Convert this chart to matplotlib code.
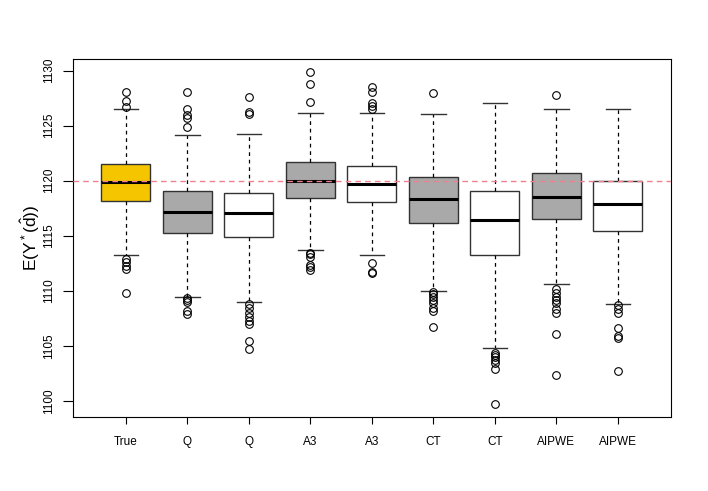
"""
Boxplots of the estimated value E(Y*(d_hat)) for each method
"""

import numpy as np
import matplotlib
matplotlib.use("Agg")
import matplotlib.pyplot as plt

#--------------------------------------------------------------

labels = ['True', 'Q', 'Q', 'A3', 'A3', 'CT', 'CT', 'AIPWE', 'AIPWE']
fills = ['#F5C600', '#A9A9A9', 'white', '#A9A9A9', 'white',
         '#A9A9A9', 'white', '#A9A9A9', 'white']

q1 = [1118.13, 1115.22, 1114.85, 1118.43, 1118.06, 1116.18, 1113.24, 1116.49, 1115.45]
med = [1119.88, 1117.13, 1117.04, 1120.00, 1119.73, 1118.36, 1116.40, 1118.52, 1117.91]
q3 = [1121.49, 1119.06, 1118.91, 1121.73, 1121.36, 1120.34, 1119.03, 1120.67, 1119.97]
whislo = [1113.22, 1109.45, 1109.00, 1113.70, 1113.22, 1110.00, 1104.76, 1110.58, 1108.79]
whishi = [1126.52, 1124.18, 1124.25, 1126.18, 1126.15, 1126.04, 1127.06, 1126.52, 1126.52]

fliers = [
    [1128.03, 1127.27, 1126.73, 1112.86, 1112.60, 1112.27, 1111.97, 1109.82],
    [1128.09, 1126.52, 1125.97, 1125.67, 1124.91,
     1109.36, 1109.15, 1108.95, 1108.15, 1107.88],
    [1127.58, 1126.22, 1126.04, 1108.76, 1108.40, 1108.00, 1107.64,
     1107.25, 1106.97, 1105.43, 1104.70],
    [1129.85, 1128.76, 1127.13, 1113.45, 1113.30, 1113.10,
     1112.33, 1112.12, 1111.88],
    [1128.49, 1128.03, 1127.04, 1126.79, 1126.52,
     1112.55, 1111.73, 1111.58],
    [1127.95, 1109.91, 1109.67, 1109.45, 1109.15, 1108.85, 1108.40,
     1108.15, 1106.73],
    [1104.36, 1104.15, 1103.94, 1103.70, 1103.40, 1102.85, 1099.70],
    [1127.76, 1110.13, 1109.82, 1109.45, 1109.15, 1108.85, 1108.31,
     1108.00, 1106.06, 1102.34],
    [1108.70, 1108.31, 1108.00, 1106.64, 1105.88, 1105.67, 1102.73],
]

true_value = 1120

#--------------------------------------------------------------

def make_stats():
    """ Build the list of dicts that ax.bxp needs """
    stats = []
    for i, lab in enumerate(labels):
        stats.append({'label': lab, 'q1': q1[i], 'med': med[i], 'q3': q3[i],
                      'whislo': whislo[i], 'whishi': whishi[i],
                      'fliers': fliers[i]})
    return stats

#--------------------------------------------------------------

plt.rcParams['font.family'] = ['Liberation Sans', 'DejaVu Sans']
plt.rcParams['mathtext.fontset'] = 'custom'
plt.rcParams['mathtext.rm'] = 'Liberation Sans'
plt.rcParams['mathtext.it'] = 'Liberation Sans'

fig = plt.figure(figsize=(7.08, 4.91), dpi=100)
ax = fig.add_axes([0.1031, 0.1507, 0.8442, 0.7291])

positions = np.arange(1, len(labels) + 1)
bp = ax.bxp(make_stats(), positions=positions, widths=0.8, patch_artist=True,
            capwidths=0.4,
            boxprops=dict(edgecolor='#333333', linewidth=1.0),
            medianprops=dict(color='black', linewidth=2.2),
            whiskerprops=dict(color='black', linestyle=(0, (3, 3)), linewidth=0.9),
            capprops=dict(color='#333333', linewidth=1.0),
            flierprops=dict(marker='o', markerfacecolor='none',
                            markeredgecolor='black', markersize=5.5,
                            markeredgewidth=0.8))
for patch, col in zip(bp['boxes'], fills):
    patch.set_facecolor(col)

ax.axhline(true_value, color='#F08090', linestyle=(0, (4, 3)), linewidth=1.0,
           zorder=3)

ax.set_xlim(0.14, 9.86)
ax.set_ylim(1098.52, 1131.06)
ax.set_yticks(np.arange(1100, 1131, 5))
ax.tick_params(axis='y', labelrotation=90, labelsize=8.5, length=7, pad=6)
ax.tick_params(axis='x', labelsize=8.5, length=5, pad=9)
for lab in ax.get_yticklabels():
    lab.set_va('center')
ax.set_ylabel(r'$\mathrm{E(Y^*(\hat{d}))}$', fontsize=12.5, labelpad=1)

fig.savefig('out.png', dpi=100)
